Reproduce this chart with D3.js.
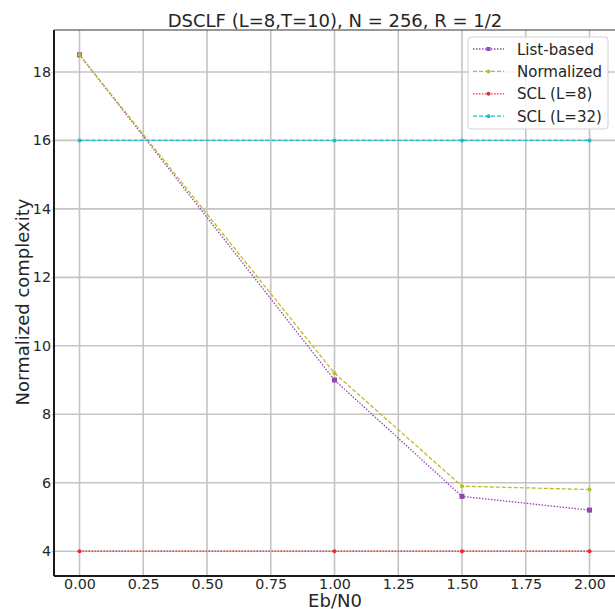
<!DOCTYPE html>
<html>
<head>
<meta charset="utf-8">
<script src="https://cdn.jsdelivr.net/npm/d3@7"></script>
<style>
  body { margin: 0; background: #fff; }
  svg { font-family: "DejaVu Sans", sans-serif; }
</style>
</head>
<body>
<script>
// chart values
const ebn0 = [0, 1.0, 1.5, 2.0];
const listBased = [18.5, 9.0, 5.6, 5.2];
const normalized = [18.5, 9.2, 5.9, 5.8];
const scl8 = [4, 4, 4, 4];
const scl32 = [16, 16, 16, 16];
const xTicks = [0, 0.25, 0.5, 0.75, 1.0, 1.25, 1.5, 1.75, 2.0];
const yTicks = [4, 6, 8, 10, 12, 14, 16, 18];

const width = 615, height = 609;
const margin = {top: 30, right: 0, bottom: 33, left: 54};

const series = [
  {name: "List-based", values: listBased, color: "#9446b0", dash: "1.5,1.5", marker: "square"},
  {name: "Normalized", values: normalized, color: "#bcbd22", dash: "4,2", marker: "circle"},
  {name: "SCL (L=8)", values: scl8, color: "#f0282d", dash: "1.5,1.5", marker: "circle"},
  {name: "SCL (L=32)", values: scl32, color: "#17becf", dash: "4,2", marker: "circle"}
];

const x = d3.scaleLinear().domain([-0.1, 2.1]).range([margin.left, width - margin.right]);
const y = d3.scaleLinear().domain([3.275, 19.225]).range([height - margin.bottom, margin.top]);

const svg = d3.select("body").append("svg")
  .attr("width", width).attr("height", height);

// grid
svg.append("g").selectAll("line").data(xTicks).join("line")
  .attr("x1", d => x(d)).attr("x2", d => x(d))
  .attr("y1", margin.top).attr("y2", height - margin.bottom)
  .attr("stroke", "#c4c4c4").attr("stroke-width", 1.6);
svg.append("g").selectAll("line").data(yTicks).join("line")
  .attr("y1", d => y(d)).attr("y2", d => y(d))
  .attr("x1", margin.left).attr("x2", width - margin.right)
  .attr("stroke", "#c4c4c4").attr("stroke-width", 1.6);

// axes
const xAxis = svg.append("g")
  .attr("transform", `translate(0,${height - margin.bottom})`)
  .call(d3.axisBottom(x).tickValues(xTicks).tickFormat(d3.format(".2f")).tickSize(0).tickPadding(3));
const yAxis = svg.append("g")
  .attr("transform", `translate(${margin.left},0)`)
  .call(d3.axisLeft(y).tickValues(yTicks).tickSize(2.5).tickPadding(0.5));
[xAxis, yAxis].forEach(g => {
  g.select(".domain").remove();
  g.selectAll(".tick line").attr("stroke", "#c4c4c4");
  g.selectAll("text").attr("font-size", 14.3).attr("fill", "#262626")
    .attr("font-family", "DejaVu Sans, sans-serif");
});

// spines
svg.append("line").attr("x1", margin.left).attr("x2", margin.left)
  .attr("y1", margin.top).attr("y2", height - margin.bottom)
  .attr("stroke", "#1a1a1a").attr("stroke-width", 2);
svg.append("line").attr("x1", margin.left).attr("x2", width)
  .attr("y1", height - margin.bottom).attr("y2", height - margin.bottom)
  .attr("stroke", "#1a1a1a").attr("stroke-width", 2);
svg.append("line").attr("x1", margin.left).attr("x2", width)
  .attr("y1", margin.top).attr("y2", margin.top)
  .attr("stroke", "#333").attr("stroke-width", 1);

// lines
const line = d3.line().x((d, i) => x(ebn0[i])).y(d => y(d));
const plot = svg.append("g");
series.forEach(s => {
  plot.append("path").datum(s.values)
    .attr("d", line).attr("fill", "none")
    .attr("stroke", s.color).attr("stroke-width", 1.3)
    .attr("stroke-dasharray", s.dash);
  const pts = plot.append("g");
  if (s.marker === "square") {
    pts.selectAll("rect").data(s.values).join("rect")
      .attr("x", (d, i) => x(ebn0[i]) - 2.5).attr("y", d => y(d) - 2.5)
      .attr("width", 5).attr("height", 5).attr("fill", s.color);
  } else {
    pts.selectAll("circle").data(s.values).join("circle")
      .attr("cx", (d, i) => x(ebn0[i])).attr("cy", d => y(d))
      .attr("r", 2).attr("fill", s.color);
  }
});

// title and axis labels
svg.append("text").attr("x", 335).attr("y", 27).attr("text-anchor", "middle")
  .attr("font-size", 18).attr("fill", "#262626")
  .text("DSCLF (L=8,T=10), N = 256, R = 1/2");
svg.append("text").attr("x", 335).attr("y", 607).attr("text-anchor", "middle")
  .attr("font-size", 18).attr("fill", "#262626").text("Eb/N0");
svg.append("text").attr("transform", "translate(29,302) rotate(-90)")
  .attr("text-anchor", "middle").attr("font-size", 18).attr("fill", "#262626")
  .text("Normalized complexity");

// legend
const lg = svg.append("g").attr("transform", "translate(468,37)");
lg.append("rect").attr("width", 140).attr("height", 92).attr("rx", 3)
  .attr("fill", "#fff").attr("fill-opacity", 0.85)
  .attr("stroke", "#d0d0d0").attr("stroke-width", 1);
series.forEach((s, i) => {
  const yy = 12 + i * 22.4;
  lg.append("line").attr("x1", 5).attr("x2", 36).attr("y1", yy).attr("y2", yy)
    .attr("stroke", s.color).attr("stroke-width", 1.3).attr("stroke-dasharray", s.dash);
  if (s.marker === "square") {
    lg.append("rect").attr("x", 18.5).attr("y", yy - 2).attr("width", 4).attr("height", 4).attr("fill", s.color);
  } else {
    lg.append("circle").attr("cx", 20.5).attr("cy", yy).attr("r", 2).attr("fill", s.color);
  }
  lg.append("text").attr("x", 49).attr("y", yy + 5.5).attr("font-size", 15)
    .attr("fill", "#262626").text(s.name);
});
</script>
</body>
</html>
